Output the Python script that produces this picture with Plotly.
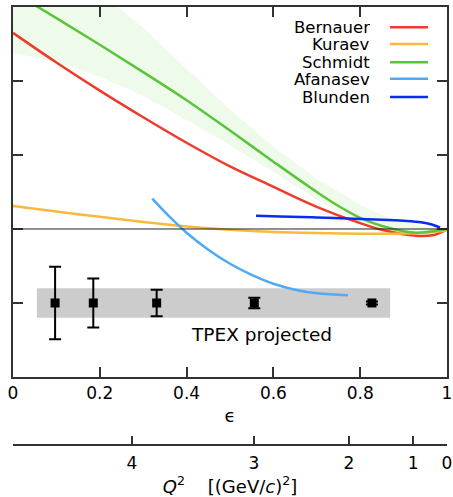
import plotly.graph_objects as go

# Two-photon exchange predictions versus epsilon
bern_eps = [0.0, 0.1, 0.2, 0.3, 0.4, 0.5, 0.6, 0.7, 0.8, 0.85, 0.9, 0.94, 0.97, 0.99, 1.0]
bern_val = [2.65, 2.25, 1.87, 1.51, 1.165, 0.845, 0.57, 0.30, 0.08, -0.01, -0.07, -0.095, -0.08, -0.035, 0.0]

kur_eps = [0.0, 0.1, 0.2, 0.3, 0.4, 0.5, 0.6, 0.7, 0.8, 0.9, 0.95, 1.0]
kur_val = [0.31, 0.235, 0.165, 0.095, 0.035, -0.01, -0.04, -0.055, -0.063, -0.06, -0.05, -0.02]

sch_eps = [0.0, 0.1, 0.2, 0.3, 0.4, 0.5, 0.6, 0.7, 0.75, 0.8, 0.85, 0.9, 0.93, 0.96, 1.0]
sch_val = [3.2, 2.85, 2.49, 2.12, 1.74, 1.33, 0.91, 0.50, 0.31, 0.15, 0.04, -0.03, -0.05, -0.035, 0.0]

sch_band_eps = [0.0, 0.1, 0.2, 0.3, 0.4, 0.5, 0.6, 0.7, 0.8, 0.85, 0.9, 0.95, 1.0]
sch_band_hi = [4.2, 3.7, 3.2, 2.72, 2.17, 1.61, 1.11, 0.68, 0.33, 0.19, 0.09, 0.03, 0.0]
sch_band_lo = [2.38, 2.26, 2.06, 1.80, 1.47, 1.13, 0.77, 0.40, 0.06, -0.06, -0.11, -0.08, 0.0]

afa_eps = [0.321, 0.36, 0.4, 0.45, 0.5, 0.55, 0.6, 0.65, 0.7, 0.772]
afa_val = [0.41, 0.17, -0.05, -0.28, -0.47, -0.62, -0.74, -0.82, -0.87, -0.895]

blu_eps = [0.56, 0.615, 0.70, 0.80, 0.85, 0.9, 0.94, 0.965, 0.984]
blu_val = [0.18, 0.17, 0.155, 0.135, 0.125, 0.11, 0.09, 0.06, 0.02]

# TPEX projected points and systematic band
tpex_eps = [0.097, 0.185, 0.331, 0.556, 0.827]
tpex_val = [-1.0, -1.0, -1.0, -1.0, -1.0]
tpex_err = [0.49, 0.33, 0.18, 0.07, 0.02]
tpex_band_eps = [0.055, 0.869]
tpex_band_lo = -1.2
tpex_band_hi = -0.8

# Q^2 scale (GeV/c)^2 placed at the matching epsilon
q2_tick_eps = [0.274, 0.555, 0.774, 0.922, 1.0]
q2_tick_text = ["4", "3", "2", "1", "0"]

eps_ticks = [0, 0.2, 0.4, 0.6, 0.8, 1]
eps_tick_text = ["0", "0.2", "0.4", "0.6", "0.8", "1"]

names = ["Bernauer", "Kuraev", "Schmidt", "Afanasev", "Blunden"]
colors = ["#ee3b2c", "#f8b93c", "#5cc33c", "#4eaaf5", "#0a2cf0"]
curves = [(bern_eps, bern_val), (kur_eps, kur_val), (sch_eps, sch_val),
          (afa_eps, afa_val), (blu_eps, blu_val)]

FONT = "DejaVu Sans"
AX = "#333333"

fig = go.Figure()

# Schmidt uncertainty band
fig.add_trace(go.Scatter(
    x=sch_band_eps + sch_band_eps[::-1],
    y=sch_band_hi + sch_band_lo[::-1],
    fill="toself", fillcolor="#effbea", line=dict(width=0),
    mode="lines", hoverinfo="skip", showlegend=False))

# TPEX systematic band
fig.add_trace(go.Scatter(
    x=[tpex_band_eps[0], tpex_band_eps[1], tpex_band_eps[1], tpex_band_eps[0]],
    y=[tpex_band_lo, tpex_band_lo, tpex_band_hi, tpex_band_hi],
    fill="toself", fillcolor="#cccccc", line=dict(width=0),
    mode="lines", hoverinfo="skip", showlegend=False))

for (ex, ey), name, col in zip(curves, names, colors):
    fig.add_trace(go.Scatter(x=ex, y=ey, mode="lines", name=name,
                             line=dict(color=col, width=2.5, shape="spline", smoothing=1.0),
                             showlegend=False))

fig.add_trace(go.Scatter(
    x=tpex_eps, y=tpex_val, mode="markers",
    marker=dict(symbol="square", size=9, color="black"),
    error_y=dict(type="data", array=tpex_err, color="black", thickness=2, width=6),
    showlegend=False))

# Q^2 axis carrier
fig.add_trace(go.Scatter(x=q2_tick_eps, y=[None] * len(q2_tick_eps), xaxis="x2",
                         mode="markers", showlegend=False, hoverinfo="skip"))

fig.add_hline(y=0, line=dict(color="#222222", width=1))

fig.add_annotation(x=0.573, y=-1.42, xref="x", yref="y", text="TPEX projected",
                   showarrow=False, font=dict(family=FONT, size=18.5, color="black"))

# legend: right-aligned names with line samples
row_y = [0.954, 0.9155, 0.874, 0.836, 0.7945]
for name, col, ry in zip(names, colors, row_y):
    fig.add_annotation(x=0.827, y=ry, xref="paper", yref="paper", text=name,
                       xanchor="right", yanchor="middle", showarrow=False, height=16,
                       font=dict(family=FONT, size=16.5, color="black"))
    fig.add_shape(type="line", xref="paper", yref="paper", x0=0.8687, x1=0.9562,
                  y0=ry, y1=ry, line=dict(color=col, width=2.5))

fig.update_layout(
    width=453, height=497,
    margin=dict(l=13, r=6, t=7, b=52, autoexpand=False),
    paper_bgcolor="white", plot_bgcolor="white",
    font=dict(family=FONT, size=17, color="black"),
    xaxis=dict(range=[0, 1], tickvals=eps_ticks, ticktext=eps_tick_text,
               ticks="inside", ticklen=10, tickcolor=AX, tickwidth=1.5,
               showline=True, linecolor=AX, linewidth=1.5, mirror="ticks",
               showgrid=False, zeroline=False, automargin=False,
               title=dict(text="ϵ", standoff=7, font=dict(size=18))),
    xaxis2=dict(range=[0, 1], overlaying="x", anchor="free", position=0, side="bottom",
                tickvals=q2_tick_eps, ticktext=q2_tick_text, ticklabelstandoff=3,
                ticks="inside", ticklen=8, tickcolor=AX, tickwidth=1.5,
                minor=dict(tickvals=[0.0], ticks="inside", ticklen=8, tickcolor=AX,
                           tickwidth=1.5, showgrid=False),
                showline=True, linecolor=AX, linewidth=1.5,
                showgrid=False, zeroline=False, automargin=False,
                title=dict(text="<i>Q</i><sup>2</sup>\u00a0\u00a0\u00a0\u00a0[(GeV/<i>c</i>)<sup>2</sup>]",
                           standoff=11, font=dict(size=18))),
    yaxis=dict(range=[-2, 3], domain=[0.1553, 1], tickvals=[-1, 0, 1, 2],
               showticklabels=False, ticks="inside", ticklen=10, tickcolor=AX,
               tickwidth=1.5, showline=True, linecolor=AX, linewidth=1.5,
               mirror="ticks", showgrid=False, zeroline=False, automargin=False),
)

fig.write_html("out.html")
